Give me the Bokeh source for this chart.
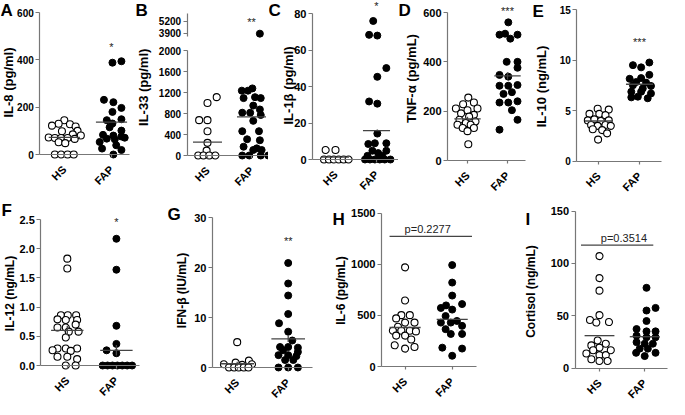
import math
from bokeh.plotting import figure
from bokeh.models import Range1d, FixedTicker, Label, NumeralTickFormatter, LinearAxis
from bokeh.layouts import row, column
from bokeh.embed import file_html
from bokeh.resources import INLINE

FONT = "Liberation Sans"
AXIS_GRAY = "#777777"
MEAN_GRAY = "#444444"

GROUP_LABELS = {1: "HS", 2: "FAP"}

# ---------------- data (x = jitter offset around group, y = value) ----------------
A_HS_off = [0, -0.12, 0.12, -0.26, 0.24, -0.05, 0.28, 0.18, -0.33, -0.2, -0.07, 0.07, 0.22, 0.35, -0.12, 0.02, -0.2, -0.07, 0.07, 0.2]
A_HS_val = [145, 130, 128, 122, 118, 98, 100, 85, 72, 70, 70, 70, 66, 80, 52, 48, 0, 0, 0, 0]
A_FAP_off = [0.21, 0.02, -0.16, 0.04, 0.21, 0.02, 0.21, -0.1, 0.02, -0.04, 0.21, -0.18, 0.04, 0.21, -0.1, 0.07, 0.28, -0.25, 0.1, -0.2, 0.21, 0.04]
A_FAP_val = [394, 388, 231, 221, 197, 180, 149, 145, 131, 115, 101, 83, 80, 76, 67, 64, 71, 53, 39, 25, 19, 0]
A_mean = [72, 137]
A_ticks = [0, 200, 400, 600]

B_HS_off = [0.21, 0.0, -0.19, 0.0, 0.0, 0.0, -0.02, -0.21, -0.09, 0.04, 0.18]
B_HS_val = [1111, 1000, 673, 673, 463, 241, 93, 0, 0, 0, 0]
B_FAP_off = [-0.22, -0.08, 0.02, -0.18, 0.08, 0.21, 0.04, 0.19, -0.21, -0.03, 0.21, 0.04, -0.21, 0.17, -0.1, 0.19, -0.18, 0.12, 0.04, 0.23, -0.21, -0.05, 0.21, 0.38, 0.19]
B_FAP_val = [1235, 1235, 1278, 1093, 1111, 1093, 951, 877, 815, 815, 772, 660, 463, 463, 309, 290, 167, 136, 105, 105, 0, 0, 0, 0, 3850]
B_mean = [253, 735]
B_ticks_low = [0, 400, 800, 1200, 1600, 2000]
B_ticks_high = [3900, 5200]
B_break = 2000

C_HS_off = [-0.24, 0.0, -0.28, -0.16, -0.04, 0.08, 0.2, 0.32]
C_HS_val = [5.2, 5.2, 0, 0, 0, 0, 0, 0]
C_FAP_off = [-0.08, -0.18, 0.02, 0.24, 0.02, -0.18, 0.02, 0.02, -0.2, -0.04, 0.24, -0.1, 0.04, 0.24, -0.22, 0.14, -0.28, -0.16, -0.04, 0.08, 0.2, 0.34]
C_FAP_val = [75.9, 68.3, 67.9, 50.1, 45.3, 31.8, 30.6, 14.2, 8.5, 8.9, 8.9, 4.8, 3.5, 4.8, 2.0, 2.0, 0, 0, 0, 0, 0, 0]
C_mean = [1.3, 15.8]
C_ticks = [0, 20, 40, 60, 80]

D_HS_off = [0.02, -0.11, 0.16, 0.25, -0.29, 0.0, -0.16, 0.16, 0.04, -0.2, 0.2, -0.04, -0.25, 0.08, -0.12, 0.16, 0.0, 0.02]
D_HS_val = [255, 228, 235, 211, 211, 204, 191, 185, 178, 165, 158, 152, 145, 145, 132, 132, 119, 66]
D_FAP_off = [0.02, -0.2, -0.06, 0.07, 0.25, -0.02, 0.25, 0.25, -0.2, 0.02, -0.2, 0.02, 0.25, -0.1, 0.11, -0.2, 0.02, 0.25, 0.11, 0.25, -0.2]
D_FAP_val = [560, 510, 514, 494, 510, 400, 400, 376, 347, 340, 303, 303, 306, 270, 277, 235, 235, 240, 204, 165, 125]
D_mean = [169, 343]
D_sem = [8, 15]
D_ticks = [0, 200, 400, 600]

E_HS_off = [-0.02, 0.25, -0.22, 0.02, 0.17, -0.26, -0.1, 0.06, 0.25, -0.18, -0.02, 0.17, 0.3, -0.14, 0.09, 0.21, -0.01]
E_HS_val = [5.18, 5.09, 4.67, 4.67, 4.54, 4.02, 4.12, 3.96, 4.02, 3.57, 3.48, 3.57, 3.48, 3.15, 3.06, 2.74, 2.12]
E_FAP_off = [0.24, -0.16, 0.04, 0.24, -0.24, 0.04, -0.08, 0.16, -0.16, 0.28, 0.08, -0.2, 0.04, 0.28, -0.04, 0.2, -0.2]
E_FAP_val = [9.75, 9.49, 9.27, 8.53, 8.14, 8.21, 7.82, 7.76, 7.5, 7.43, 7.18, 6.86, 6.86, 6.69, 6.37, 6.21, 6.3]
E_mean = [3.96, 7.6]
E_ticks = [0, 5, 10, 15]

F_HS_off = [0, 0, -0.13, 0.01, 0.18, -0.2, -0.03, 0.2, 0.17, -0.2, -0.03, 0.03, 0.23, -0.03, -0.2, -0.03, 0.2, -0.3, 0.07, -0.2, 0.0, 0.2, -0.03, 0.17]
F_HS_val = [1.83, 1.66, 0.86, 0.86, 0.86, 0.79, 0.78, 0.78, 0.70, 0.65, 0.65, 0.58, 0.58, 0.48, 0.29, 0.29, 0.29, 0.26, 0.25, 0.15, 0.15, 0.11, 0, 0]
F_FAP_off = [0, 0, 0, 0, -0.2, 0.0, -0.28, -0.18, -0.08, 0.02, 0.12, 0.22, 0.32]
F_FAP_val = [2.17, 1.64, 0.68, 0.37, 0.26, 0.21, 0, 0, 0, 0, 0, 0, 0]
F_mean = [0.60, 0.26]
F_sem = [0.08, 0.09]
F_ticks = [0, 0.5, 1.0, 1.5, 2.0, 2.5]

G_HS_off = [0, 0.23, -0.03, -0.26, 0.29, 0.1, -0.16, -0.06, 0.03, 0.13, 0.22]
G_HS_val = [5.07, 1.37, 0.98, 0.65, 0.65, 0.52, 0, 0, 0, 0, 0]
G_FAP_off = [0, 0, 0, 0, -0.18, 0, 0.08, -0.16, 0, 0.19, -0.1, 0.19, -0.19, 0, 0.16, -0.06, 0.1, -0.19, 0, 0.19]
G_FAP_val = [20.9, 16.8, 14.4, 10.7, 8.85, 7.16, 5.4, 4.1, 4.1, 3.97, 3.45, 3.12, 2.47, 2.47, 2.28, 1.5, 1.5, 0, 0, 0]
G_mean = [0.75, 5.73]
G_sem = [0.4, 0.65]
G_ticks = [0, 10, 20, 30]

H_HS_off = [0, 0, -0.08, 0.1, -0.19, 0, 0.2, -0.15, -0.26, -0.08, 0.1, 0.23, -0.19, 0, 0.13, -0.22, 0.2, 0]
H_HS_val = [969, 645, 502, 502, 470, 429, 429, 388, 350, 350, 350, 343, 302, 302, 264, 207, 190, 175]
H_FAP_off = [0, 0, 0, -0.13, 0.21, -0.24, 0, -0.14, 0.1, -0.24, -0.03, 0.21, -0.14, -0.03, 0.21, -0.21, 0.21, 0]
H_FAP_val = [991, 820, 693, 597, 610, 572, 556, 493, 445, 429, 429, 397, 365, 318, 318, 184, 175, 105]
H_mean = [381, 461]
H_ticks = [0, 500, 1000, 1500]
H_p_text = "p=0.2277"
H_p_level = 1271

I_HS_off = [0, 0, 0, 0, -0.21, -0.07, 0.21, -0.04, 0.14, -0.18, 0, 0.25, -0.14, -0.29, 0, 0.14, -0.18, 0, 0.18]
I_HS_val = [107, 86, 74, 50.6, 46, 43.5, 44, 26.4, 23.3, 21.7, 19.6, 17.1, 17.1, 14, 12.4, 12.4, 8.4, 6.8, 6.8]
I_FAP_off = [0.04, 0.24, 0.04, 0.04, -0.18, 0.04, 0.24, -0.18, 0.04, 0.24, -0.18, 0.0, 0.18, -0.11, 0.07, -0.19, 0.24, 0.0]
I_FAP_val = [76.7, 57.5, 55, 45, 37.3, 35.1, 35.1, 31, 29.5, 29.5, 24.8, 23.3, 23.3, 18.6, 18.6, 14.6, 14.6, 11.5]
I_mean = [31, 30]
I_ticks = [0, 50, 100, 150]
I_p_text = "p=0.3514"
I_p_level = 117.4

STARS = {"A": ("*", 463), "B": ("**", 5370), "C": ("*", 85), "D": ("***", 613),
         "E": ("***", 12.0), "F": ("*", 2.49), "G": ("**", 25.8)}

GEOM = {}


def make_panel(W, H, ax_px, end_px, hs_px, fap_px, top_px, zero_px, top_val):
    """Frame covers the whole canvas; axes are pinned with fixed_location."""
    unit = fap_px - hs_px

    def xd(c):
        return 1 + (c - hs_px) / unit

    def yd(c):
        return top_val * (zero_px - c) / (zero_px - top_px)

    p = figure(width=W, height=H, min_border_left=0, min_border_right=0,
               min_border_top=0, min_border_bottom=0,
               x_range=Range1d(xd(0), xd(W)), y_range=Range1d(yd(H), yd(0)),
               output_backend="svg", toolbar_location=None)
    p.outline_line_color = None
    p.grid.visible = False
    p.border_fill_color = "white"
    p.background_fill_color = "white"
    GEOM[id(p)] = dict(H=H, ax=xd(ax_px), end=xd(end_px))
    return p


def style_yaxis(ax, ticks, bounds, loc, fsize, fmt=None):
    ax.ticker = FixedTicker(ticks=ticks)
    ax.bounds = bounds
    ax.fixed_location = loc
    if fmt:
        ax.formatter = NumeralTickFormatter(format=fmt)
    ax.major_label_text_font = FONT
    ax.major_label_text_font_size = fsize
    ax.major_label_text_font_style = "bold"
    ax.major_label_text_color = "black"
    ax.major_label_standoff = 2
    ax.major_tick_out = 4
    ax.major_tick_in = 0
    ax.minor_tick_out = 0
    ax.minor_tick_in = 0
    ax.axis_line_color = AXIS_GRAY
    ax.axis_line_width = 1.2
    ax.major_tick_line_color = AXIS_GRAY
    ax.major_tick_line_width = 1.2


def style_axes(p, ticks, top_val, fsize, fmt=None):
    g = GEOM[id(p)]
    style_yaxis(p.yaxis[0], ticks, (0, top_val), g["ax"], fsize, fmt)
    ax = p.xaxis[0]
    ax.ticker = FixedTicker(ticks=list(GROUP_LABELS))
    ax.major_label_overrides = {k: "" for k in GROUP_LABELS}
    ax.fixed_location = 0
    ax.bounds = (g["ax"], g["end"])
    ax.major_tick_out = 3
    ax.major_tick_in = 0
    ax.minor_tick_out = 0
    ax.minor_tick_in = 0
    ax.axis_line_color = AXIS_GRAY
    ax.axis_line_width = 1.2
    ax.major_tick_line_color = AXIS_GRAY
    ax.major_tick_line_width = 1.2
    # rotated category names (45 degrees), ending just below each tick
    for xv, name in GROUP_LABELS.items():
        p.add_layout(Label(x=xv, y=0, y_offset=-13, text=name, angle=math.pi / 4,
                           text_font=FONT, text_font_size="11px", text_font_style="bold",
                           text_color="black", text_align="right", text_baseline="middle"))


def draw_groups(p, hs_off, hs_val, fap_off, fap_val, y_range_name="default"):
    if hs_val:
        p.scatter([1 + o for o in hs_off], hs_val, size=7, marker="circle",
                  fill_color="white", line_color="black", line_width=1.1, y_range_name=y_range_name)
    if fap_val:
        p.scatter([2 + o for o in fap_off], fap_val, size=7, marker="circle",
                  fill_color="black", line_color="black", line_width=1, y_range_name=y_range_name)


def draw_means(p, means, hw=0.33, sem=None):
    p.segment(x0=[1 - hw, 2 - hw], x1=[1 + hw, 2 + hw], y0=means, y1=means,
              line_color=MEAN_GRAY, line_width=1.3)
    if sem:
        p.segment(x0=[1, 2], x1=[1, 2], y0=[m - s for m, s in zip(means, sem)],
                  y1=[m + s for m, s in zip(means, sem)], line_color=MEAN_GRAY, line_width=1.3)


def letter(p, text, cx, cy):
    H = GEOM[id(p)]["H"]
    p.add_layout(Label(x=cx, y=H - cy, x_units="screen", y_units="screen",
                       text=text, text_font=FONT, text_font_size="17px", text_font_style="bold",
                       text_color="black", text_align="left", text_baseline="top"))


def ytitle(p, text, cx, cy, fsize="13px"):
    H = GEOM[id(p)]["H"]
    p.add_layout(Label(x=cx, y=H - cy, x_units="screen", y_units="screen",
                       text=text, angle=math.pi / 2, text_font=FONT, text_font_size=fsize,
                       text_font_style="bold", text_color="black", text_align="center",
                       text_baseline="middle"))


def star(p, key, y_range_name="default"):
    s, v = STARS[key]
    p.add_layout(Label(x=2, y=v, text=s, text_font=FONT, text_font_size="11px",
                       text_color="#222222", text_align="center", text_baseline="middle",
                       y_offset=-2, y_range_name=y_range_name))


def pvalue(p, text, level, x0, x1, xt):
    p.segment(x0=[x0], x1=[x1], y0=[level], y1=[level], line_color=MEAN_GRAY, line_width=1.3)
    p.add_layout(Label(x=xt, y=level, y_offset=1, text=text, text_font=FONT, text_font_size="11px",
                       text_color="#222222", text_align="center", text_baseline="bottom"))


# ---------------- top row ----------------
pA = make_panel(135, 200, 39.3, 128.6, 63.8, 111, 12, 154, 600)
style_axes(pA, A_ticks, 600, "10px")
draw_groups(pA, A_HS_off, A_HS_val, A_FAP_off, A_FAP_val)
draw_means(pA, A_mean)
star(pA, "A")
ytitle(pA, "IL-8 (pg/ml)", 7.8, 82)
letter(pA, "A", 0, 0)

# B: broken axis -> lower range (default) + upper range ("up")
pB = make_panel(133, 200, 51.6, 133, 72, 116, 50, 155, 2000)
u_hi_px, u_lo_px = 20.8, 32.7   # canvas rows of 5200 and 3900


def b_up(c):
    return 3900 + (5200 - 3900) * (u_lo_px - c) / (u_lo_px - u_hi_px)


pB.extra_y_ranges = {"up": Range1d(b_up(200), b_up(0))}
style_axes(pB, B_ticks_low, 2000, "10px")
up_axis = LinearAxis(y_range_name="up")
style_yaxis(up_axis, B_ticks_high, (b_up(36), b_up(13.4)), GEOM[id(pB)]["ax"], "10px")
pB.add_layout(up_axis, "left")
lo_hs = [(o, v) for o, v in zip(B_HS_off, B_HS_val) if v <= B_break]
lo_fap = [(o, v) for o, v in zip(B_FAP_off, B_FAP_val) if v <= B_break]
hi_fap = [(o, v) for o, v in zip(B_FAP_off, B_FAP_val) if v > B_break]
draw_groups(pB, [o for o, v in lo_hs], [v for o, v in lo_hs], [o for o, v in lo_fap], [v for o, v in lo_fap])
draw_groups(pB, [], [], [o for o, v in hi_fap], [v for o, v in hi_fap], y_range_name="up")
draw_means(pB, B_mean)
star(pB, "B", y_range_name="up")
ytitle(pB, "IL-33 (pg/ml)", 8.4, 86.8)
letter(pB, "B", 0, 0)

pC = make_panel(130, 200, 44, 130, 67, 108, 13, 159, 80)
style_axes(pC, C_ticks, 80, "11px")
draw_groups(pC, C_HS_off, C_HS_val, C_FAP_off, C_FAP_val)
draw_means(pC, C_mean)
star(pC, "C")
ytitle(pC, "IL-1β (pg/ml)", 20, 85)
letter(pC, "C", 0, 0)

pD = make_panel(134, 200, 49, 127, 69, 109, 12, 160, 600)
style_axes(pD, D_ticks, 600, "11px")
draw_groups(pD, D_HS_off, D_HS_val, D_FAP_off, D_FAP_val)
draw_means(pD, D_mean, sem=D_sem)
star(pD, "D")
ytitle(pD, "TNF-α (pg/mL)", 13, 78)
letter(pD, "D", 0, 0)

pE = make_panel(137, 200, 44.4, 129, 66, 107, 9, 160.5, 15)
style_axes(pE, E_ticks, 15, "10px")
draw_groups(pE, E_HS_off, E_HS_val, E_FAP_off, E_FAP_val)
draw_means(pE, E_mean)
star(pE, "E")
ytitle(pE, "IL-10 (ng/mL)", 9, 86)
letter(pE, "E", 0, 1)

# ---------------- bottom row ----------------
pF = make_panel(167, 199, 40.3, 138.5, 66.8, 115.9, 19, 165, 2.5)
style_axes(pF, F_ticks, 2.5, "11px", fmt="0.0")
draw_groups(pF, F_HS_off, F_HS_val, F_FAP_off, F_FAP_val)
draw_means(pF, F_mean, sem=F_sem)
star(pF, "F")
ytitle(pF, "IL-12 (ng/mL)", 9.8, 93, "12px")
letter(pF, "F", 1, 0)

pG = make_panel(165, 199, 45, 145.3, 69.7, 120.7, 17, 167, 30)
style_axes(pG, G_ticks, 30, "11px")
draw_groups(pG, G_HS_off, G_HS_val, G_FAP_off, G_FAP_val)
draw_means(pG, G_mean, sem=G_sem)
star(pG, "G")
ytitle(pG, "IFN-β (IU/mL)", 14.7, 90, "12px")
letter(pG, "G", 0, 4)

pH = make_panel(168, 199, 49, 144.3, 72.6, 119.7, 12.5, 166, 1500)
style_axes(pH, H_ticks, 1500, "11px")
draw_groups(pH, H_HS_off, H_HS_val, H_FAP_off, H_FAP_val)
draw_means(pH, H_mean)
pvalue(pH, H_p_text, H_p_level, 0.67, 2.42, 1.48)
ytitle(pH, "IL-6 (pg/mL)", 8.5, 90, "12px")
letter(pH, "H", 0, 9)

pI = make_panel(169, 199, 74.5, 167, 99, 144.2, 10.6, 167.6, 150)
style_axes(pI, I_ticks, 150, "11px")
draw_groups(pI, I_HS_off, I_HS_val, I_FAP_off, I_FAP_val)
draw_means(pI, I_mean)
pvalue(pI, I_p_text, I_p_level, 0.59, 2.19, 1.54)
ytitle(pI, "Cortisol (ng/mL)", 30, 91, "12px")
letter(pI, "I", 25, 9)

top_row = row(pA, pB, pC, pD, pE)
bottom_row = row(pF, pG, pH, pI)
layout = column(top_row, bottom_row)

open("out.html", "w").write(file_html(layout, INLINE))
